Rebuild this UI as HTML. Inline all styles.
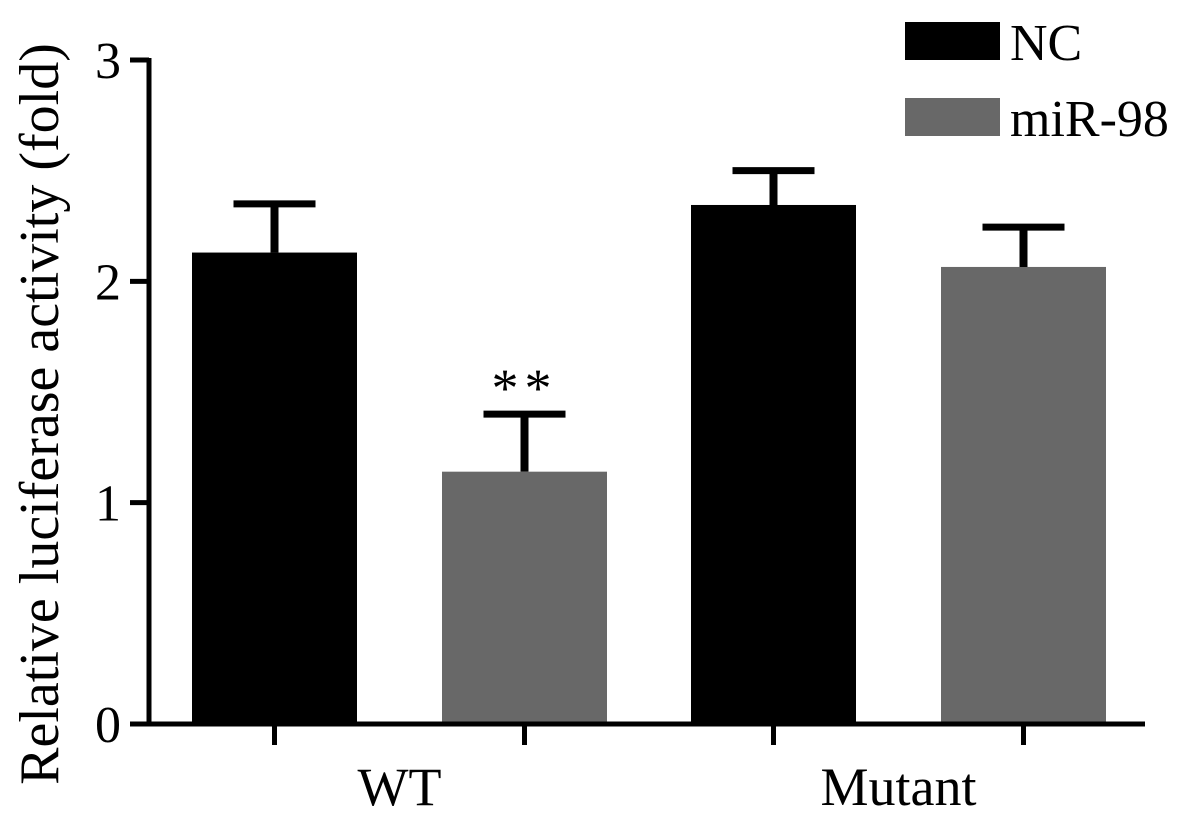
<!DOCTYPE html>
<html><head><meta charset="utf-8"><style>
body{margin:0;background:#fff}
svg text{font-family:"Liberation Serif",serif;fill:#000}
</style></head><body>
<svg width="1181" height="822" id="chart"></svg>
<script>
const categories=["WT","Mutant"];
const seriesNames=["NC","miR-98"];
const ncValues=[2.13,2.345];
const mirValues=[1.14,2.065];
const ncErrors=[0.22,0.155];
const mirErrors=[0.26,0.18];
const yTicks=[0,1,2,3];
const colors=["#000000","#686868"];
const NS="http://www.w3.org/2000/svg";
const svg=document.getElementById('chart');
function el(t,a,p){const e=document.createElementNS(NS,t);for(const k in a)e.setAttribute(k,a[k]);(p||svg).appendChild(e);return e;}
const y0=724,y3=60;
function yScale(v){return y0-(y0-y3)*v/3;}
const axisX=149,xEnd=1145;
const groupStart=[192,691],barW=165,gap=250;
[ncValues,mirValues].forEach((vals,s)=>{
  const errs=s===0?ncErrors:mirErrors;
  vals.forEach((v,i)=>{
    const x=groupStart[i]+s*gap, cx=x+barW/2;
    const b=el('rect',{x:x,y:yScale(v),width:barW,height:y0-yScale(v),fill:colors[s]});
    
    
    const eg=el('g',{});
    
    
    el('line',{x1:cx,x2:cx,y1:yScale(v),y2:yScale(v+errs[i]),stroke:'#000','stroke-width':8},eg);
    el('line',{x1:cx-41,x2:cx+41,y1:yScale(v+errs[i]),y2:yScale(v+errs[i]),stroke:'#000','stroke-width':7},eg);
  });
});
const sig=el('text',{x:groupStart[0]+gap+barW/2,y:yScale(mirValues[0]+mirErrors[0])-8,'font-size':54,'text-anchor':'middle','letter-spacing':'6'});
sig.textContent='**';


const ya=el('line',{x1:axisX,x2:axisX,y1:y3-2,y2:y0+2,stroke:'#000','stroke-width':5});


const xa=el('line',{x1:axisX-19,x2:xEnd,y1:y0,y2:y0,stroke:'#000','stroke-width':5});


yTicks.forEach(t=>{
  el('line',{x1:axisX-19,x2:axisX,y1:yScale(t),y2:yScale(t),stroke:'#000','stroke-width':5});
  const l=el('text',{x:axisX-28,y:yScale(t)+18,'font-size':52,'text-anchor':'end'});
  l.textContent=t;
  
  
});
categories.forEach((c,i)=>{
  [0,1].forEach(s=>{const cx=groupStart[i]+s*gap+barW/2;el('line',{x1:cx,x2:cx,y1:y0,y2:y0+21,stroke:'#000','stroke-width':5});});
  const l=el('text',{x:groupStart[i]+(gap+barW)/2,y:805,'font-size':54,'text-anchor':'middle'});
  l.textContent=c;
  
  
});
const yt=el('text',{x:0,y:0,'font-size':56,'text-anchor':'middle',transform:'translate(58,414) rotate(-90)'});
yt.textContent='Relative luciferase activity (fold)';


seriesNames.forEach((n,s)=>{
  const g=el('g',{});
  
  
  el('rect',{x:905,y:22+s*76,width:95,height:38,fill:colors[s]},g);
  const t=el('text',{x:1010,y:60+s*76,'font-size':52},g);
  t.textContent=n;
});
</script>
</body></html>
